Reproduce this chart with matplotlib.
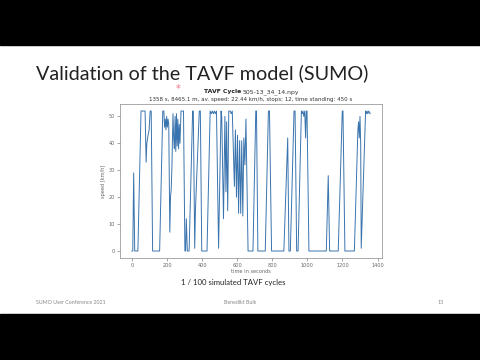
import numpy as np
import matplotlib.pyplot as plt

# speed trace of the cycle (time s, speed km/h)
time_s = [0, 5, 10, 16, 34, 52, 60, 75, 81, 85, 92, 98, 104, 110, 118, 158,
          176, 182, 186, 190, 194, 198, 202, 206, 210, 216, 220, 224, 228, 234,
          238, 242, 246, 250, 254, 258, 262, 266, 270, 274, 280, 294, 302, 306,
          310, 316, 326, 346, 350, 358, 362, 384, 390, 398, 428, 446, 452, 458,
          464, 470, 476, 482, 494, 508, 512, 522, 530, 536, 540, 546, 552, 560,
          566, 572, 578, 584, 590, 596, 602, 608, 614, 620, 626, 632, 638, 644,
          650, 662, 690, 706, 710, 718, 760, 778, 784, 796, 866, 888, 895, 903,
          924, 930, 939, 947, 966, 970, 975, 980, 985, 990, 994, 998, 1009,
          1108, 1119, 1127, 1176, 1199, 1203, 1214, 1268, 1288, 1292, 1296,
          1300, 1304, 1307, 1332, 1336, 1340, 1345, 1350, 1358]
speed_kmh = [0, 0, 29, 0, 0, 52, 52, 52, 33, 40, 43, 45, 52, 52, 0, 0,
             52, 52, 46, 49, 45, 50, 46, 49, 47, 7, 20, 23, 31, 51,
             42, 38, 50, 37, 51, 39, 49, 38, 47, 40, 52, 52, 0, 0,
             12, 0, 0, 52, 52, 1, 15, 52, 52, 0, 0, 52, 51, 52,
             51, 52, 51, 52, 1, 52, 50, 12, 50, 22, 48, 15, 52, 52,
             51, 52, 38, 24, 45, 20, 43, 14, 41, 14, 41, 13, 42, 32,
             49, 0, 0, 52, 52, 0, 0, 52, 52, 0, 0, 42, 0, 0,
             52, 52, 0, 0, 52, 51, 52, 50, 52, 42, 52, 52, 0,
             0, 28, 0, 0, 52, 52, 0, 0, 45, 48, 42,
             50, 40, 1, 52, 51, 52, 51, 52, 51]

x_ticks = [0, 200, 400, 600, 800, 1000, 1200, 1400]
y_ticks = [0, 10, 20, 30, 40, 50]

slide_title = "Validation of the TAVF model (SUMO)"
plot_title_bold = "TAVF Cycle"
plot_title_file = "505-13_34_14.npy"
plot_subtitle = "1358 s, 8465.1 m, av. speed: 22.44 km/h, stops: 12, time standing: 450 s"
caption = "1 / 100 simulated TAVF cycles"
footer_left = "SUMO User Conference 2021"
footer_mid = "Benedikt Bulk"
footer_right = "13"

plt.rcParams['font.family'] = ['Lato', 'DejaVu Sans']

fig = plt.figure(figsize=(4.8, 3.6), dpi=100)
fig.patch.set_facecolor('white')

# black letterbox bars
fig.patches.append(plt.Rectangle((0, 1 - 45 / 360), 1, 45 / 360, transform=fig.transFigure,
                                 color='black', zorder=0))
fig.patches.append(plt.Rectangle((0, 0), 1, 46 / 360, transform=fig.transFigure,
                                 color='black', zorder=0))

fig.text(36 / 480, 1 - 73 / 360, slide_title, fontsize=14.2, color='#222222',
         ha='left', va='center')

ax = fig.add_axes([0.25, 0.2833, 0.546, 0.4277])
ax.plot(time_s, speed_kmh, color='#3a74ae', lw=0.7)
ax.set_xticks(x_ticks)
ax.set_yticks(y_ticks)
ax.tick_params(labelsize=3.6, colors='#666666', length=2, width=0.4, pad=1.5)
for s in ax.spines.values():
    s.set_color('#888888')
    s.set_linewidth(0.5)
ax.set_xlabel('time in seconds', fontsize=3.6, color='#666666', labelpad=1,
              family='DejaVu Sans')
ax.set_ylabel('speed [km/h]', fontsize=3.6, color='#666666', labelpad=2,
              family='DejaVu Sans')
for lbl in ax.get_xticklabels() + ax.get_yticklabels():
    lbl.set_family('DejaVu Sans')

fig.text(241 / 480, 1 - 92 / 360, plot_title_bold, fontsize=4.4, weight='bold',
         ha='right', va='center', color='#222222', family='DejaVu Sans')
fig.text(243 / 480, 1 - 92 / 360, plot_title_file, fontsize=4.4,
         ha='left', va='center', color='#333333', family='DejaVu Sans')
fig.text(251 / 480, 1 - 100 / 360, plot_subtitle, fontsize=4.0,
         ha='center', va='center', color='#333333', family='DejaVu Sans')

# pointer dot on the slide
fig.text(178 / 480, 1 - 89 / 360, '*', fontsize=7, color='#f07080',
         ha='center', va='center', family='DejaVu Sans')

fig.text(233 / 480, 1 - 282 / 360, caption, fontsize=5.6, color='#222222',
         ha='center', va='center')
fig.text(36 / 480, 1 - 302 / 360, footer_left, fontsize=3.8, color='#888888',
         ha='left', va='center')
fig.text(240 / 480, 1 - 302 / 360, footer_mid, fontsize=3.8, color='#888888',
         ha='center', va='center')
fig.text(441 / 480, 1 - 302 / 360, footer_right, fontsize=3.8, color='#888888',
         ha='center', va='center')

fig.savefig('out.png', dpi=100)
